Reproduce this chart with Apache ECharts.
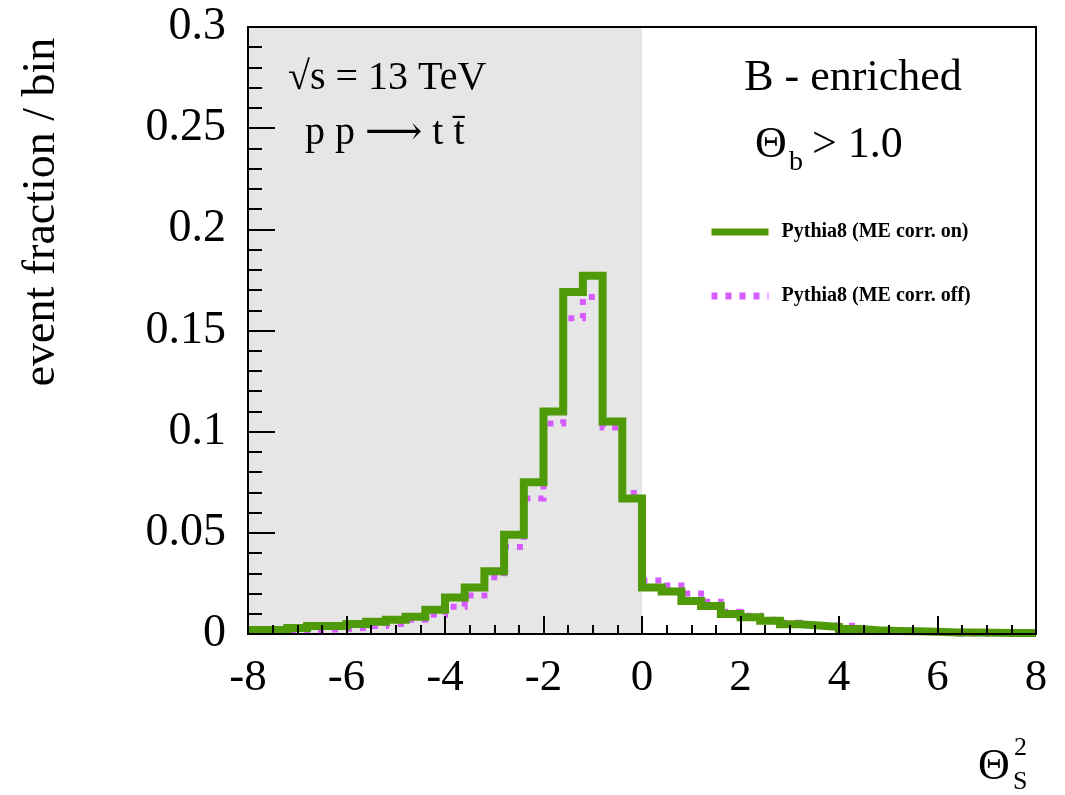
<!DOCTYPE html>
<html>
<head>
<meta charset="utf-8">
<script src="https://cdn.jsdelivr.net/npm/echarts@6/dist/echarts.min.js"></script>
<style>
  html, body { margin: 0; padding: 0; background: #fff; }
  #chart { width: 1065px; height: 795px; }
</style>
</head>
<body>
<div id="chart"></div>
<script>
// bin edges of the histogram (width 0.4)
const binEdges = [-8, -7.6, -7.2, -6.8, -6.4, -6, -5.6, -5.2, -4.8, -4.4, -4, -3.6, -3.2, -2.8, -2.4, -2, -1.6, -1.2, -0.8, -0.4,
  0, 0.4, 0.8, 1.2, 1.6, 2, 2.4, 2.8, 3.2, 3.6, 4, 4.4, 4.8, 5.2, 5.6, 6, 6.4, 6.8, 7.2, 7.6, 8];

// Pythia8 (ME corr. on)
const meCorrOn = [0.002, 0.002, 0.003, 0.004, 0.004, 0.005, 0.006, 0.007, 0.0085, 0.012,
  0.018, 0.023, 0.031, 0.049, 0.075, 0.110, 0.169, 0.177, 0.105, 0.067,
  0.023, 0.021, 0.0163, 0.0138, 0.0099, 0.0083, 0.0066, 0.0048, 0.0042, 0.0035,
  0.0025, 0.0018, 0.0015, 0.0013, 0.0011, 0.0008, 0.0007, 0.0006, 0.0005, 0.0005];

// Pythia8 (ME corr. off)
const meCorrOff = [0.001, 0.001, 0.0015, 0.002, 0.0025, 0.003, 0.004, 0.005, 0.007, 0.0095,
  0.0135, 0.019, 0.028, 0.043, 0.067, 0.104, 0.156, 0.1666, 0.102, 0.0697,
  0.0265, 0.024, 0.020, 0.016, 0.011, 0.009, 0.007, 0.0055, 0.0045, 0.0042,
  0.004, 0.002, 0.0015, 0.0012, 0.001, 0.0003, 0.0002, 0.0004, 0.0004, 0.0004];

const shadeRange = [-8, 0];
const yTicks = [0, 0.05, 0.1, 0.15, 0.2, 0.25, 0.3];

const serif = '"Liberation Serif", "DejaVu Serif", serif';
const green = '#4f9a08';
const magenta = '#d75cff';

// step points at the left edge of each bin, plus the closing edge
const toSteps = vals => binEdges.map((x, i) => [x, vals[Math.min(i, vals.length - 1)]]);

const label = (x, y, text, size, extra) => ({
  type: 'text', x: x, y: y, z: 50,
  style: Object.assign({ text: text, fontFamily: serif, fontSize: size, fill: '#000', align: 'left', verticalAlign: 'middle' }, extra || {})
});

const chart = echarts.init(document.getElementById('chart'));

chart.setOption({
  animation: false,
  backgroundColor: '#fff',
  grid: {
    left: 248, top: 27, right: 29, bottom: 161,
    show: true, z: 10, backgroundColor: 'transparent',
    borderColor: '#000', borderWidth: 2
  },
  xAxis: {
    type: 'value', min: -8, max: 8, interval: 2, z: 10,
    axisLine: { show: true, onZero: false, lineStyle: { color: '#000', width: 2 } },
    axisTick: { show: true, inside: true, length: 18, lineStyle: { color: '#000', width: 2 } },
    minorTick: { show: true, splitNumber: 4, length: 9, lineStyle: { color: '#000', width: 2 } },
    splitLine: { show: false },
    axisLabel: { color: '#000', fontFamily: serif, fontSize: 45, margin: 22 }
  },
  yAxis: {
    type: 'value', min: 0, max: 0.3, interval: 0.05, z: 10,
    axisLine: { show: true, onZero: false, lineStyle: { color: '#000', width: 2 } },
    axisTick: { show: true, inside: true, length: 27, lineStyle: { color: '#000', width: 2 } },
    minorTick: { show: true, splitNumber: 5, length: 14, lineStyle: { color: '#000', width: 2 } },
    splitLine: { show: false },
    axisLabel: {
      color: '#000', fontFamily: serif, fontSize: 46, margin: 22,
      formatter: v => yTicks.includes(+v.toFixed(2)) ? String(+v.toFixed(2)) : ''
    }
  },
  legend: {
    orient: 'vertical', left: 708, top: 222, padding: 0,
    itemWidth: 57, itemHeight: 14, itemGap: 44,
    itemStyle: { opacity: 0 },
    z: 50,
    data: ['Pythia8 (ME corr. on)', 'Pythia8 (ME corr. off)'],
    lineStyle: { width: 7 },
    textStyle: { color: '#000', fontFamily: serif, fontWeight: 'bold', fontSize: 20, padding: [0, 0, 0, 8] }
  },
  series: [
    {
      type: 'line', data: [], z: 1, silent: true,
      markArea: {
        silent: true,
        itemStyle: { color: '#e6e6e6' },
        data: [[{ xAxis: shadeRange[0] }, { xAxis: shadeRange[1] }]]
      }
    },
    {
      name: 'Pythia8 (ME corr. off)', type: 'line', step: 'end', z: 3,
      showSymbol: false, symbol: 'none', clip: false,
      data: toSteps(meCorrOff),
      itemStyle: { color: magenta },
      lineStyle: { color: magenta, width: 6, type: [6, 8], cap: 'butt', join: 'miter' }
    },
    {
      name: 'Pythia8 (ME corr. on)', type: 'line', step: 'end', z: 4,
      showSymbol: false, symbol: 'none', clip: false,
      data: toSteps(meCorrOn),
      itemStyle: { color: green },
      lineStyle: { color: green, width: 8, cap: 'butt', join: 'miter' }
    }
  ],
  graphic: [
    { type: 'text', x: 42, y: 212, rotation: Math.PI / 2, z: 50,
      style: { text: 'event fraction / bin', fontFamily: serif, fontSize: 46, fill: '#000', align: 'center', verticalAlign: 'middle' } },
    label(288, 78, '√s = 13 TeV', 40),
    label(305, 133, 'p p ⟶ t t\u0304', 40),
    label(853, 78, 'B - enriched', 44, { align: 'center' }),
    label(755, 145, 'Θ', 44),
    label(789, 163, 'b', 28),
    label(812, 145, '> 1.0', 44),
    label(978, 767, 'Θ', 44),
    label(1014, 748, '2', 26),
    label(1013, 782, 'S', 26)
  ]
});
</script>
</body>
</html>
